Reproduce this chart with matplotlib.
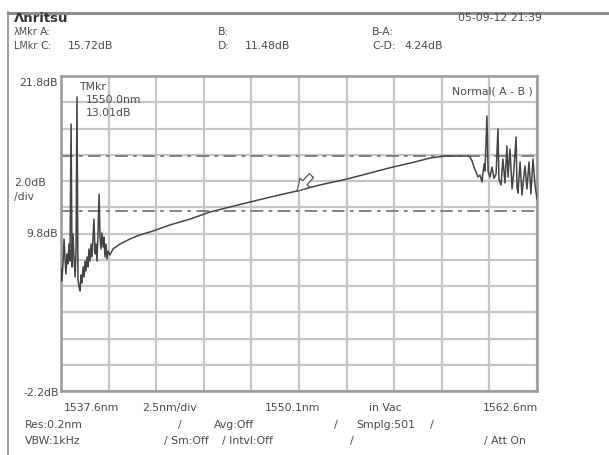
import matplotlib
matplotlib.use("Agg")
import matplotlib.pyplot as plt

# ---------------- data ----------------
x_start_nm = 1537.6
x_stop_nm = 1562.6
x_div_nm = 2.5
y_top_db = 21.8
y_bottom_db = -2.2
y_div_db = 2.0

level_c_db = 15.72
level_d_db = 11.48
marker_nm = 1550.0
marker_db = 13.01

wavelength_nm = [
    1537.60, 1537.65, 1537.71, 1537.76, 1537.81, 1537.86, 1537.92, 1537.97, 1538.02, 1538.07,
    1538.13, 1538.18, 1538.23, 1538.28, 1538.34, 1538.39, 1538.44, 1538.49, 1538.55, 1538.60,
    1538.65, 1538.70, 1538.76, 1538.81, 1538.86, 1538.91, 1538.97, 1539.02, 1539.07, 1539.12,
    1539.18, 1539.23, 1539.28, 1539.33, 1539.39, 1539.44, 1539.49, 1539.54, 1539.60, 1539.65,
    1539.70, 1539.75, 1539.81, 1539.86, 1539.91, 1539.96, 1540.02, 1540.07, 1540.17, 1540.33,
    1540.70, 1541.22, 1541.75, 1542.43, 1543.32, 1544.38, 1545.43, 1546.48, 1547.53, 1548.84,
    1550.00, 1551.20, 1552.62, 1553.83, 1555.04, 1556.19, 1556.98, 1557.77, 1558.98,
    1559.08, 1559.19, 1559.29, 1559.40, 1559.50, 1559.61, 1559.71, 1559.82, 1559.87, 1559.97,
    1560.03, 1560.13, 1560.24, 1560.34, 1560.45, 1560.55, 1560.60, 1560.71, 1560.81, 1560.92,
    1561.02, 1561.08, 1561.18, 1561.29, 1561.39, 1561.50, 1561.55, 1561.60, 1561.71, 1561.81,
    1561.92, 1561.97, 1562.07, 1562.18, 1562.28, 1562.39, 1562.49, 1562.60,
]
level_db = [
    7.10, 6.18, 7.70, 9.38, 7.86, 6.71, 8.24, 7.48, 9.00, 7.70,
    18.14, 7.25, 9.76, 8.01, 6.49, 8.62, 20.20, 6.33, 5.72, 5.42,
    6.64, 6.03, 7.25, 6.49, 7.70, 6.94, 8.01, 7.25, 8.62, 7.70,
    9.00, 8.01, 9.38, 10.90, 8.24, 9.00, 7.70, 9.69, 12.81, 9.53,
    8.62, 9.84, 8.77, 9.53, 8.01, 9.00, 7.86, 8.47, 8.16, 8.62,
    9.00, 9.38, 9.69, 9.99, 10.45, 10.90, 11.44, 11.82, 12.20, 12.66,
    13.04, 13.50, 13.95, 14.41, 14.87, 15.25, 15.55, 15.70, 15.70,
    15.63, 15.32, 14.87, 14.49, 14.10, 14.26, 13.72, 15.10, 14.56, 18.75,
    14.56, 14.10, 14.87, 14.00, 14.33, 17.76, 13.95, 13.50, 15.48, 13.65,
    16.47, 14.10, 16.24, 13.19, 14.71, 17.15, 13.34, 12.89, 15.25, 12.73,
    14.33, 14.94, 13.19, 15.25, 12.81, 15.48, 13.57, 12.43,
]

header_texts = ["Λnritsu", "05-09-12 21:39"]
lmkr_row = ["λMkr", "A:", "B:", "B-A:"]
level_row = ["LMkr", "C:", "15.72dB", "D:", "11.48dB", "C-D:", "4.24dB"]
y_labels = ["21.8dB", "2.0dB", "/div", "9.8dB", "-2.2dB"]
x_labels = ["1537.6nm", "2.5nm/div", "1550.1nm", "in Vac", "1562.6nm"]
marker_texts = ["TMkr", "1550.0nm", "13.01dB"]
mode_text = "Normal( A - B )"
status_row1 = ["Res:0.2nm", "/", "Avg:Off", "/", "Smplg:501", "/"]
status_row2 = ["VBW:1kHz", "/ Sm:Off", "/ Intvl:Off", "/", "/ Att On"]

# ---------------- figure ----------------
W, H = 609, 456
FONT = "DejaVu Sans"
TXT = "#4a4a4a"
FS = 7.8

fig = plt.figure(figsize=(W / 100, H / 100), dpi=100)
fig.patch.set_facecolor("white")

def px(x, y):
    return x / W, 1 - y / H

def ftext(x, y, s, ha="left", va="center", **kw):
    fx, fy = px(x, y)
    kw.setdefault("fontsize", FS)
    kw.setdefault("color", TXT)
    fig.text(fx, fy, s, ha=ha, va=va, family=FONT, **kw)

# outer frame lines
fig.add_artist(plt.Line2D([8 / W, 1.0], [1 - 13.5 / H, 1 - 13.5 / H], color="#8c8c8c", lw=2.2))
fig.add_artist(plt.Line2D([8 / W, 8 / W], [1 - 13 / H, 0], color="#8c8c8c", lw=1.2))

L, T, R, B = 61, 77, 537, 392
ax = fig.add_axes([L / W, 1 - B / H, (R - L) / W, (B - T) / H])
ax.set_xlim(x_start_nm, x_stop_nm)
ax.set_ylim(y_bottom_db, y_top_db)
nx = round((x_stop_nm - x_start_nm) / x_div_nm)
ny = round((y_top_db - y_bottom_db) / y_div_db)
ax.set_xticks([x_start_nm + i * x_div_nm for i in range(nx + 1)])
ax.set_yticks([y_bottom_db + i * y_div_db for i in range(ny + 1)])
ax.tick_params(length=0, labelbottom=False, labelleft=False)
ax.grid(True, color="#c6c6c6", lw=1.6)
ax.set_axisbelow(True)
for sp in ax.spines.values():
    sp.set_color("#9a9a9a")
    sp.set_linewidth(1.8)

# level markers C and D
for lv in (level_c_db, level_d_db):
    ax.axhline(lv, color="#7a7a7a", lw=1.3, ls=(0, (7, 3, 2, 3)), zorder=2)

# trace
ax.plot(wavelength_nm, level_db, color="#454545", lw=1.1, zorder=3)

# trace marker arrow
ax.annotate("", xy=(marker_nm, marker_db), xytext=(marker_nm + 0.75, marker_db + 1.2),
            arrowprops=dict(arrowstyle="simple,head_width=0.8,head_length=0.7,tail_width=0.35",
                            fc="white", ec="#555555", lw=0.9, shrinkA=0, shrinkB=0,
                            mutation_scale=12), zorder=4)

# header
ftext(14, 18, header_texts[0], fontweight="bold", fontsize=9.5, color="#333333")
ftext(542, 18, header_texts[1], ha="right")
ftext(14, 32, lmkr_row[0], fontsize=6.9); ftext(40, 32, lmkr_row[1])
ftext(218, 32, lmkr_row[2]); ftext(372, 32, lmkr_row[3])
ftext(14, 46, level_row[0], fontsize=6.9); ftext(40, 46, level_row[1]); ftext(68, 46, level_row[2])
ftext(218, 46, level_row[3]); ftext(245, 46, level_row[4])
ftext(372, 46, level_row[5]); ftext(404, 46, level_row[6])

# y labels
ftext(58, 83, y_labels[0], ha="right")
ftext(14, 183, y_labels[1])
ftext(14, 197, y_labels[2])
ftext(58, 234, y_labels[3], ha="right")
ftext(59, 393, y_labels[4], ha="right")

# marker block and mode
ftext(79, 87, marker_texts[0])
ftext(86, 100, marker_texts[1])
ftext(86, 113, marker_texts[2])
ftext(452, 92, mode_text)

# x labels
ftext(64, 408, x_labels[0])
ftext(142, 408, x_labels[1])
ftext(265, 408, x_labels[2])
ftext(369, 408, x_labels[3])
ftext(538, 408, x_labels[4], ha="right")

# status rows
for xx, s in zip([25, 178, 214, 334, 356, 430], status_row1):
    ftext(xx, 425, s)
for xx, s in zip([25, 164, 222, 350, 484], status_row2):
    ftext(xx, 441, s)

fig.savefig("out.png", dpi=100, facecolor="white")
